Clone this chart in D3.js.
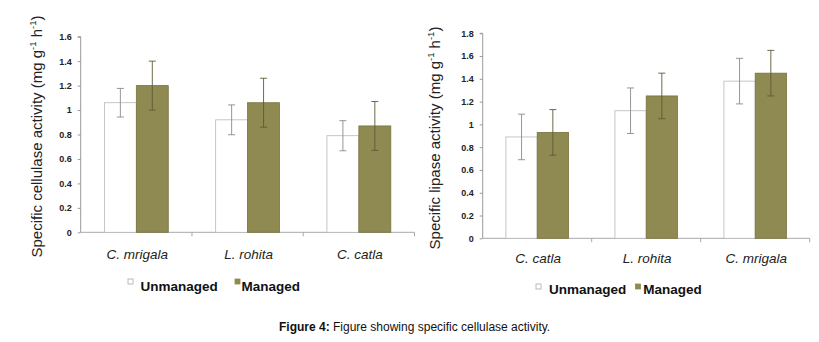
<!DOCTYPE html>
<html><head><meta charset="utf-8">
<script src="https://cdn.jsdelivr.net/npm/d3@7"></script>
<style>body{margin:0;background:#fff}svg{display:block}</style>
</head><body>
<svg id="c" width="819" height="342"></svg>
<script>
// ---- data ----
const seriesNames = ["Unmanaged", "Managed"];
const cellCategories = ["C. mrigala", "L. rohita", "C. catla"];
const cellUnmanaged = [1.06, 0.92, 0.79];
const cellManaged = [1.20, 1.06, 0.87];
const cellUnmanagedErr = [0.117, 0.122, 0.123];
const cellManagedErr = [0.20, 0.20, 0.20];
const cellTicks = [0, 0.2, 0.4, 0.6, 0.8, 1, 1.2, 1.4, 1.6];

const lipCategories = ["C. catla", "L. rohita", "C. mrigala"];
const lipUnmanaged = [0.89, 1.12, 1.38];
const lipManaged = [0.93, 1.25, 1.45];
const lipUnmanagedErr = [0.20, 0.20, 0.20];
const lipManagedErr = [0.20, 0.20, 0.20];
const lipTicks = [0, 0.2, 0.4, 0.6, 0.8, 1, 1.2, 1.4, 1.6, 1.8];

const captionBold = "Figure 4:";
const captionText = " Figure showing specific cellulase activity.";

// ---- style ----
const managedFill = "#8f8a52";
const font = "Arial, 'Liberation Sans', sans-serif";
const svg = d3.select("#c");

function drawChart(o) {
  const g = svg.append("g");
  const x = d3.scaleBand().domain(o.categories).range([o.x0, o.x1]);
  const y = d3.scaleLinear().domain([0, o.ymax]).range([o.y0, o.yTop]);
  const bw = x.bandwidth();
  const barW = bw * 0.287;
  const xs = d3.scaleBand().domain(seriesNames).range([bw / 2 - barW, bw / 2 + barW]);

  // y axis
  const ya = g.append("g").attr("transform", `translate(${o.x0},0)`)
    .call(d3.axisLeft(y).tickValues(o.ticks).tickSize(3).tickPadding(6)
      .tickFormat(d => d3.format("")(+d.toFixed(1))));
  ya.select(".domain").attr("stroke", "#9a9a9a").attr("d", `M-3,${y(o.ymax)}H0V${o.y0}`);
  ya.selectAll(".tick line").attr("stroke", "#9a9a9a");
  ya.selectAll(".tick text").attr("font-family", font).attr("font-size", 9)
    .attr("font-weight", "bold").attr("fill", "#222");

  // x axis baseline with separators
  g.append("line").attr("x1", o.x0).attr("x2", o.x1).attr("y1", o.y0).attr("y2", o.y0)
    .attr("stroke", "#a8a8a8");
  const bounds = o.categories.map(c => x(c) + bw);
  g.selectAll(".sep").data(bounds).enter().append("line")
    .attr("x1", d => d).attr("x2", d => d).attr("y1", o.y0).attr("y2", o.y0 + 4)
    .attr("stroke", "#a8a8a8");

  const rows = o.categories.map((c, i) => ({
    c, vals: [
      { s: "Unmanaged", v: o.un[i], e: o.unErr[i] },
      { s: "Managed", v: o.ma[i], e: o.maErr[i] }]
  }));
  const grp = g.selectAll(".grp").data(rows).enter().append("g")
    .attr("transform", d => `translate(${x(d.c)},0)`);
  grp.selectAll("rect").data(d => d.vals).enter().append("rect")
    .attr("x", d => xs(d.s)).attr("width", xs.bandwidth())
    .attr("y", d => y(d.v)).attr("height", d => o.y0 - y(d.v))
    .attr("fill", d => d.s === "Managed" ? managedFill : "#fff")
    .attr("stroke", d => d.s === "Managed" ? "#77723f" : "#b8b8b8")
    .attr("stroke-width", 0.8);
  const eb = grp.selectAll(".eb").data(d => d.vals).enter().append("g")
    .attr("stroke", d => d.s === "Managed" ? "#5e5a34" : "#8a8a8a").attr("stroke-width", 0.9);
  const cx = d => xs(d.s) + xs.bandwidth() / 2;
  eb.append("line").attr("x1", cx).attr("x2", cx)
    .attr("y1", d => y(d.v + d.e)).attr("y2", d => y(d.v - d.e));
  eb.append("line").attr("x1", d => cx(d) - 3.5).attr("x2", d => cx(d) + 3.5)
    .attr("y1", d => y(d.v + d.e)).attr("y2", d => y(d.v + d.e));
  eb.append("line").attr("x1", d => cx(d) - 3.5).attr("x2", d => cx(d) + 3.5)
    .attr("y1", d => y(d.v - d.e)).attr("y2", d => y(d.v - d.e));

  // category labels
  g.selectAll(".cl").data(o.categories).enter().append("text")
    .attr("x", d => x(d) + bw / 2 + 1).attr("y", o.catY)
    .attr("text-anchor", "middle").attr("font-family", font).attr("font-size", 13.5)
    .attr("font-style", "italic").attr("fill", "#222").text(d => d);

  // y title
  const t = g.append("text").attr("transform", `translate(${o.titleX},${o.titleY}) rotate(-90)`)
    .attr("text-anchor", "middle").attr("font-family", font).attr("font-size", 15).attr("fill", "#222");
  t.append("tspan").text(o.title + " (mg g");
  t.append("tspan").attr("font-size", 9.5).attr("dy", -6).text("-1");
  t.append("tspan").attr("dy", 6).text(" h");
  t.append("tspan").attr("font-size", 9.5).attr("dy", -6).text("-1");
  t.append("tspan").attr("dy", 6).text(")");

  // legend
  const lg = g.append("g");
  o.legend.forEach((L, i) => {
    lg.append("rect").attr("x", L.bx).attr("y", o.legBoxY).attr("width", 5).attr("height", 5)
      .attr("fill", i === 1 ? managedFill : "#fff").attr("stroke", i === 1 ? "#8f8a52" : "#aaa")
      .attr("stroke-width", 0.8);
    lg.append("text").attr("x", L.tx).attr("y", o.legY).attr("font-family", font)
      .attr("font-size", 13.5).attr("font-weight", "bold").attr("fill", "#111").text(seriesNames[i]);
  });
}

drawChart({
  categories: cellCategories, un: cellUnmanaged, ma: cellManaged,
  unErr: cellUnmanagedErr, maErr: cellManagedErr, ticks: cellTicks, ymax: 1.6,
  x0: 80.7, x1: 414.5, y0: 232.3, yTop: 36.7, catY: 258.5,
  title: "Specific cellulase activity", titleX: 42, titleY: 136.5,
  legend: [{ bx: 128, tx: 140.5 }, { bx: 235, tx: 241.5 }], legBoxY: 279, legY: 290.5
});
drawChart({
  categories: lipCategories, un: lipUnmanaged, ma: lipManaged,
  unErr: lipUnmanagedErr, maErr: lipManagedErr, ticks: lipTicks, ymax: 1.8,
  x0: 482.7, x1: 809.7, y0: 238.3, yTop: 33.3, catY: 262.5,
  title: "Specific lipase activity", titleX: 440, titleY: 138,
  legend: [{ bx: 536, tx: 549 }, { bx: 635.5, tx: 643.3 }], legBoxY: 284, legY: 294
});

// caption
const cap = svg.append("text").attr("x", 279).attr("y", 331).attr("font-family", font)
  .attr("font-size", 12).attr("fill", "#111");
cap.append("tspan").attr("font-weight", "bold").text(captionBold);
cap.append("tspan").text(captionText);
</script>
</body></html>
